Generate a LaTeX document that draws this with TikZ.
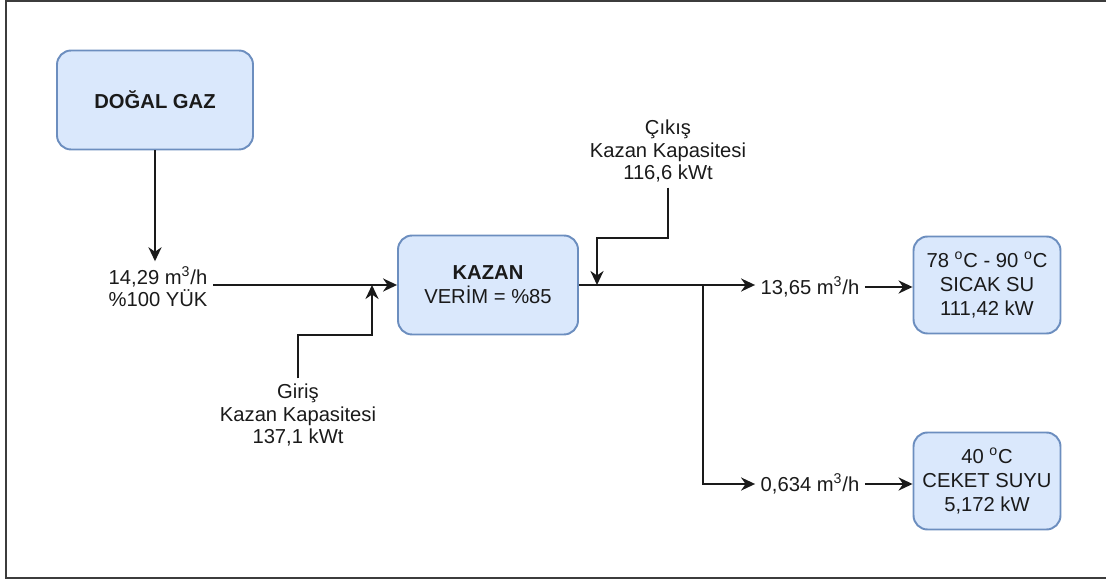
\documentclass[tikz,border=0pt]{standalone}
\usepackage{fontspec}
\setmainfont{Liberation Sans}
\usetikzlibrary{arrows.meta,positioning,calc}
\definecolor{boxfill}{HTML}{DAE8FC}
\definecolor{boxline}{HTML}{6C8EBF}
\definecolor{framec}{HTML}{3C3C3C}
\definecolor{ink}{HTML}{1A1A1A}
\newcommand{\mkup}{m\textsuperscript{3}/h}
\newcommand{\degc}{\textsuperscript{o}C}
\tikzset{
  box/.style={draw=boxline, fill=boxfill, rounded corners=8pt, align=center,
              line width=1.1pt, inner sep=2pt, text=ink,
              font=\fontsize{11.5}{13.5}\selectfont},
  bigbox/.style={box, minimum width=3.92cm, minimum height=1.98cm},
  kazbox/.style={box, minimum width=3.6cm, minimum height=1.98cm},
  endbox/.style={box, minimum width=2.94cm, minimum height=1.94cm},
  lbl/.style={align=center, inner sep=3pt, text=ink,
              font=\fontsize{11.5}{12.8}\selectfont},
  ar/.style={-{Stealth[length=8pt, width=7.5pt]}, line width=1pt, draw=ink}
}
\begin{document}
\begin{tikzpicture}[x=0.02cm, y=-0.02cm]
  \useasboundingbox (0,0) rectangle (1106,580);
  \draw[framec, line width=0.9pt] (1106,1) -- (6,1) -- (6,578) -- (1106,578);

  % boxes
  \node[bigbox] (gas) at (155,100) {\bfseries DOĞAL GAZ};
  \node[kazbox] (kazan) at (488,285) {\bfseries KAZAN\\VERİM = \%85};
  \node[endbox] (hot) at (987,285) {78 \degc{} - 90 \degc\\SICAK SU\\111,42 kW};
  \node[endbox] (jacket) at (987,481) {40 \degc\\CEKET SUYU\\5,172 kW};

  % labels
  \node[lbl] (qin) at (158,287) {14,29 \mkup\\\%100 YÜK};
  \node[lbl] (giris) at (298,415) {Giriş\\Kazan Kapasitesi\\137,1 kWt};
  \node[lbl] (cikis) at (668,151) {Çıkış\\Kazan Kapasitesi\\116,6 kWt};
  \node[lbl] (qhot) at (810,287) {13,65 \mkup};
  \node[lbl] (qjac) at (810,484) {0,634 \mkup};

  \coordinate (jin) at (372,285);
  \coordinate (gbend) at (372,335);
  \coordinate (jout) at (597,285);
  \coordinate (cbend) at (597,238);
  \coordinate (split) at (703,285);

  \draw[ar] (gas.south) -- (gas.south |- qin.north);
  \draw[ar] (qin.east |- kazan.west) -- (kazan);
  \draw[ar] (giris.north) |- (gbend) -- (jin);
  \draw[ar] (cikis.south) |- (cbend) -- (jout);
  \draw[ar] (kazan) -- (qhot.west |- kazan.east);
  \draw[ar] (split) |- (qjac.west);
  \draw[ar] (qhot.east) -- (qhot.east -| hot.west);
  \draw[ar] (qjac.east) -- (qjac.east -| jacket.west);
\end{tikzpicture}
\end{document}
